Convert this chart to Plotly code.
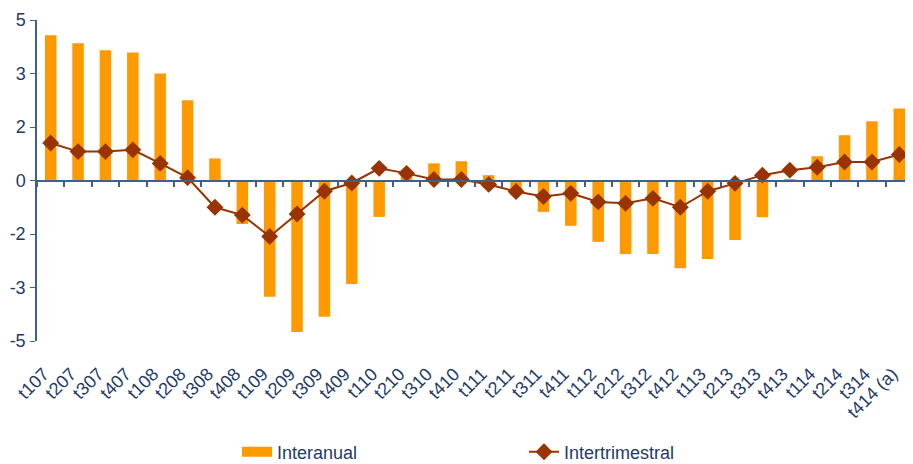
import plotly.graph_objects as go

categories = ["t107","t207","t307","t407","t108","t208","t308","t408",
              "t109","t209","t309","t409","t110","t210","t310","t410",
              "t111","t211","t311","t411","t112","t212","t312","t412",
              "t113","t213","t313","t413","t114","t214","t314","t414 (a)"]
interanual = [4.07, 3.85, 3.65, 3.59, 3.00, 2.25, 0.62, -1.22,
              -3.26, -4.25, -3.82, -2.90, -1.02, 0.16, 0.48, 0.54,
              0.15, -0.40, -0.88, -1.27, -1.72, -2.06, -2.06, -2.46,
              -2.20, -1.67, -1.03, 0.04, 0.68, 1.27, 1.66, 2.02]
intertrimestral = [1.05, 0.81, 0.81, 0.86, 0.48, 0.08, -0.75, -0.97,
                   -1.57, -0.94, -0.30, -0.07, 0.34, 0.20, 0.03, 0.03,
                   -0.11, -0.31, -0.45, -0.36, -0.60, -0.64, -0.50, -0.75,
                   -0.30, -0.08, 0.15, 0.29, 0.37, 0.52, 0.52, 0.73]
y_tickvals = [-4.5, -3, -1.5, 0, 1.5, 3, 4.5]
y_ticktext = ["-5", "-3", "-2", "0", "2", "3", "5"]

ORANGE = "#FF9900"
BROWN = "#993300"
TEXT = "#1F3B66"
AXIS = "#3E6189"
FONT = "Liberation Sans, Arial, sans-serif"

fig = go.Figure()
fig.add_trace(go.Bar(x=categories, y=interanual, name="Interanual",
                     marker=dict(color=ORANGE, line=dict(width=0)),
                     width=0.42, showlegend=False))
# legend swatch for the bars (wide orange block like the original)
fig.add_trace(go.Scatter(x=[None], y=[None], mode="lines", name="Interanual",
                         line=dict(color=ORANGE, width=14)))
fig.add_trace(go.Scatter(x=categories, y=intertrimestral, name="Intertrimestral",
                         mode="lines+markers", xaxis="x2",
                         line=dict(color=BROWN, width=2),
                         marker=dict(symbol="diamond", size=13, color=BROWN)))

# page body has an 8px margin, so the figure is laid out 8px smaller
W, H = 905, 456
left, right, top, bottom = 29, 0, 12, 333
ph = bottom - top
pw = W - left - right

fig.update_layout(
    width=W, height=H,
    margin=dict(l=left, r=right, t=top, b=H - bottom, autoexpand=False),
    plot_bgcolor="white", paper_bgcolor="white",
    font=dict(family=FONT, color=TEXT, size=17),
    xaxis=dict(type="category", categoryorder="array", categoryarray=categories,
               range=[-0.5, len(categories) - 0.5],
               showline=False, showgrid=False, zeroline=False, ticks="",
               tickangle=-45, tickfont=dict(size=18, color=TEXT), automargin=False,
               ticklabelstandoff=18, ticklabelshift=-7),
    xaxis2=dict(overlaying="x", matches="x", anchor="free", position=0.5,
                type="category", showline=True, linecolor=AXIS, linewidth=2,
                ticks="outside", ticklen=5, tickcolor=AXIS, tickwidth=1.5,
                tickson="boundaries", showticklabels=False, showgrid=False,
                zeroline=False),
    yaxis=dict(range=[-4.5, 4.5], tickvals=y_tickvals,
               ticktext=y_ticktext, showline=True, linecolor=AXIS, linewidth=1.5,
               ticks="outside", ticklen=5, tickcolor=AXIS, showgrid=False,
               zeroline=False, tickfont=dict(size=18, color=TEXT),
               ticklabelstandoff=1, automargin=False),
    legend=dict(orientation="h", x=(229 - left) / pw, xanchor="left",
                y=-(444 - bottom) / ph, yanchor="middle",
                entrywidth=242, entrywidthmode="pixels",
                font=dict(size=18, color=TEXT), bgcolor="rgba(0,0,0,0)"),
)

fig.write_html("out.html")
